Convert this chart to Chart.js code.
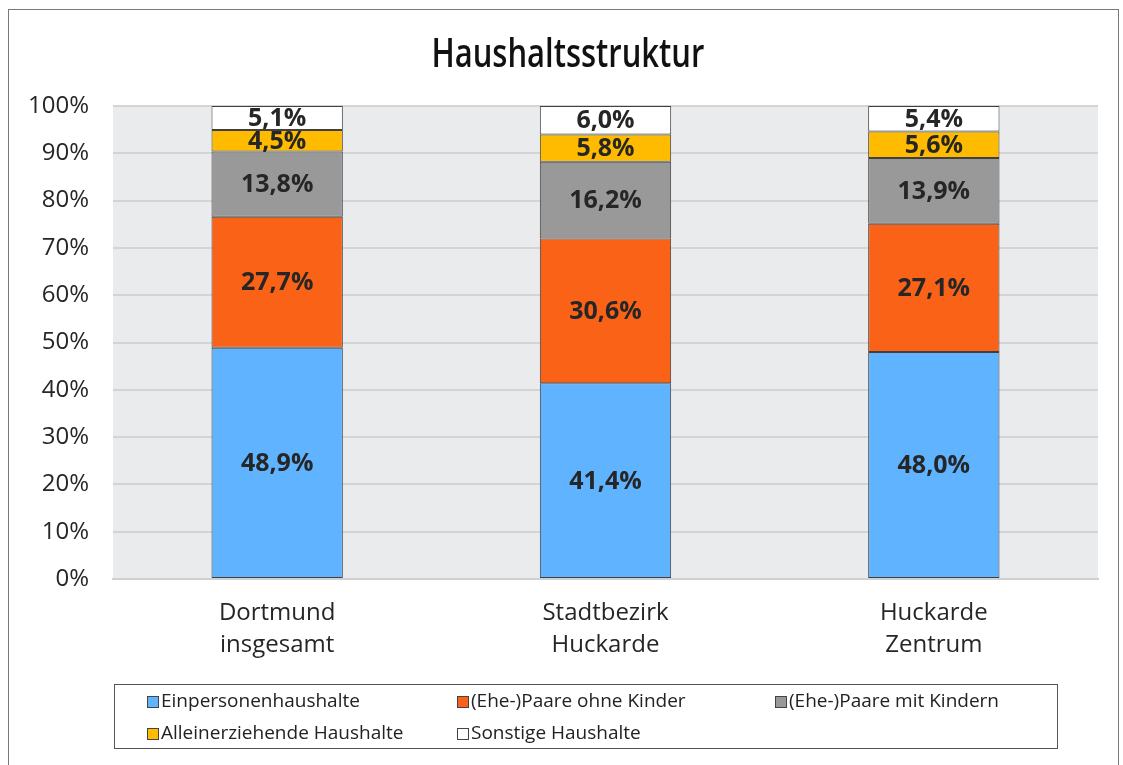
<!DOCTYPE html>
<html lang="de">
<head>
<meta charset="utf-8">
<title>Haushaltsstruktur</title>
<script src="https://cdn.jsdelivr.net/npm/chart.js@4"></script>
<style>
  html, body { margin: 0; padding: 0; background: #fff; }
  #wrap { position: relative; width: 1123px; height: 765px; overflow: hidden; font-family: "Open Sans", sans-serif; }
  #frame { position: absolute; left: 8px; top: 9px; width: 1111px; height: 800px; border: 1px solid #7a7a7a; box-sizing: border-box; }
  #chart { position: absolute; left: 0; top: 0; }
  #title { position: absolute; left: 568px; top: 26px; font-size: 39px; line-height: 52px; font-weight: 600; color: #111; white-space: nowrap; transform-origin: 0 0; }
  #legend { position: absolute; left: 114px; top: 684px; width: 944px; height: 65px; border: 1px solid #555; box-sizing: border-box; }
  .item { position: absolute; font-size: 19px; color: #222; line-height: 20px; white-space: nowrap; }
  .item span.box { display: inline-block; width: 10px; height: 10px; border: 1px solid #444; margin-right: 2px; vertical-align: -1px; }
</style>
</head>
<body>
<div id="wrap">
  <div id="frame"></div>
  <canvas id="chart" width="1123" height="765"></canvas>
  <div id="title">Haushaltsstruktur</div>
  <div id="legend"></div>
</div>
<script>
// categories (two-line labels)
const categories = [
  ['Dortmund', 'insgesamt'],
  ['Stadtbezirk', 'Huckarde'],
  ['Huckarde', 'Zentrum']
];

// shares in percent
const einpersonen = [48.9, 41.4, 48.0];
const paareOhne = [27.7, 30.6, 27.1];
const paareMit = [13.8, 16.2, 13.9];
const alleinerziehend = [4.5, 5.8, 5.6];
const sonstige = [5.1, 6.0, 5.4];

const seriesNames = ['Einpersonenhaushalte', '(Ehe-)Paare ohne Kinder', '(Ehe-)Paare mit Kindern', 'Alleinerziehende Haushalte', 'Sonstige Haushalte'];
const seriesColors = ['#5fb3ff', '#fa6218', '#999999', '#ffbb00', '#ffffff'];
const seriesData = [einpersonen, paareOhne, paareMit, alleinerziehend, sonstige];

const yTicks = [0, 10, 20, 30, 40, 50, 60, 70, 80, 90, 100];

const fmt = v => v.toFixed(1).replace('.', ',') + '%';

const plotBg = {
  id: 'plotBg',
  beforeDraw(chart) {
    const {ctx, chartArea: a} = chart;
    ctx.save();
    ctx.fillStyle = '#e9ebec';
    ctx.fillRect(a.left, a.top, a.right - a.left, a.bottom - a.top);
    ctx.restore();
  }
};

const barLabels = {
  id: 'barLabels',
  afterDatasetsDraw(chart) {
    const ctx = chart.ctx;
    ctx.save();
    ctx.font = 'bold 25px "Open Sans", sans-serif';
    ctx.fillStyle = '#262626';
    ctx.textAlign = 'center';
    ctx.textBaseline = 'middle';
    chart.data.datasets.forEach((ds, i) => {
      chart.getDatasetMeta(i).data.forEach((bar, j) => {
        const y = (bar.y + bar.base) / 2;
        ctx.fillText(fmt(ds.data[j]), bar.x, y + 1);
      });
    });
    ctx.restore();
  }
};

const chart = new Chart(document.getElementById('chart'), {
  type: 'bar',
  data: {
    labels: categories,
    datasets: seriesData.map((d, i) => ({
      label: seriesNames[i],
      data: d,
      backgroundColor: seriesColors[i],
      borderColor: '#404040',
      borderWidth: 1,
      borderSkipped: false,
      barPercentage: 0.4,
      categoryPercentage: 1
    }))
  },
  options: {
    responsive: false,
    animation: false,
    layout: { padding: { left: 0, right: 25, top: 106, bottom: 100 } },
    plugins: {
      legend: { display: false },
      tooltip: { enabled: false },
      title: { display: false }
    },
    scales: {
      x: {
        stacked: true,
        grid: { display: false, drawTicks: false },
        border: { display: true, color: '#d0d0d0', width: 2 },
        ticks: {
          color: '#262626',
          font: { family: '"Open Sans", sans-serif', size: 24, lineHeight: 1.3 },
          padding: 19,
          maxRotation: 0
        },
        afterFit(s) { s.height = 86; }
      },
      y: {
        stacked: true,
        min: 0,
        max: 100,
        afterBuildTicks(s) { s.ticks = yTicks.map(v => ({ value: v })); },
        grid: { color: '#d4d4d4', lineWidth: 2, drawTicks: false },
        border: { display: false },
        ticks: {
          color: '#262626',
          font: { family: '"Open Sans", sans-serif', size: 24 },
          padding: 24,
          callback: v => v + '%'
        },
        afterFit(s) { s.width = 113; }
      }
    }
  },
  plugins: [plotBg, barLabels]
});

// narrow the title to the reference width and centre it
const title = document.getElementById('title');
const sx = 273 / title.offsetWidth;
title.style.transform = 'translateX(' + (-136.5) + 'px) scaleX(' + sx + ')';

// legend built from the datasets
const legendPos = [[32, 5], [342, 5], [660, 5], [32, 37], [342, 37]];
const legend = document.getElementById('legend');
chart.data.datasets.forEach((ds, i) => {
  const el = document.createElement('div');
  el.className = 'item';
  el.style.left = legendPos[i][0] + 'px';
  el.style.top = legendPos[i][1] + 'px';
  const box = document.createElement('span');
  box.className = 'box';
  box.style.background = ds.backgroundColor;
  el.appendChild(box);
  el.appendChild(document.createTextNode(ds.label));
  legend.appendChild(el);
});
</script>
</body>
</html>
